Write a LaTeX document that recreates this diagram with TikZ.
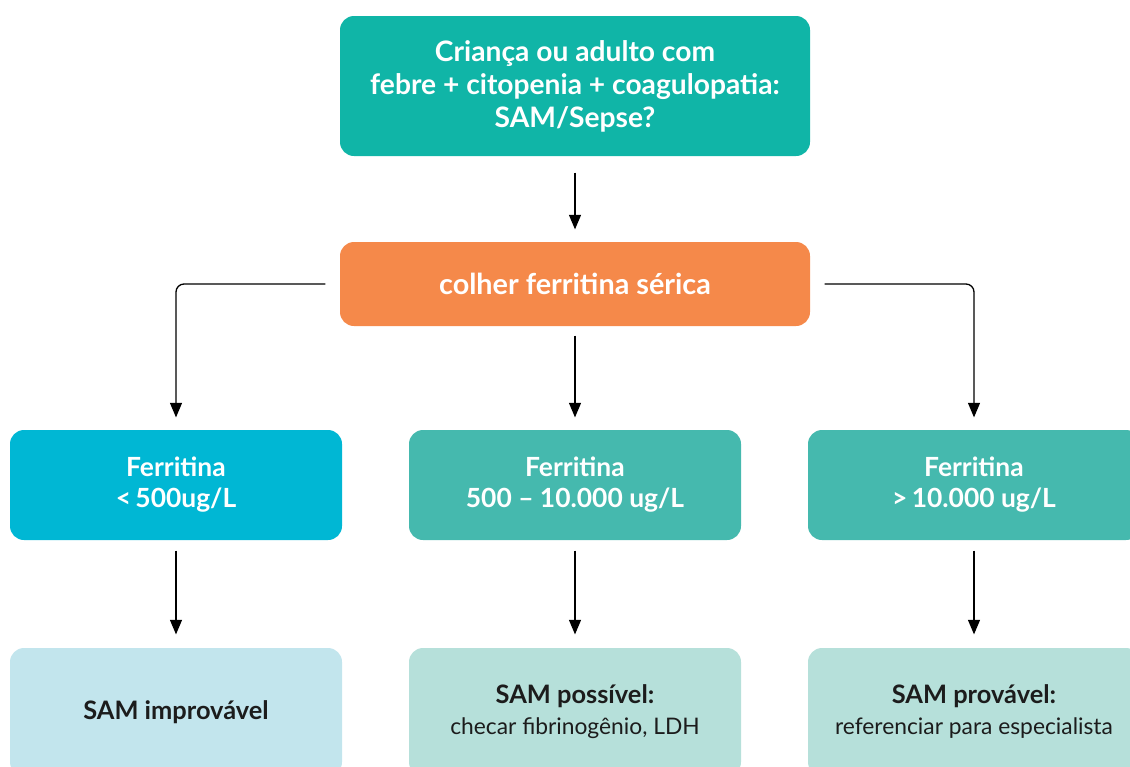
\documentclass[tikz,border=0pt]{standalone}
\usepackage{fontspec}
\setmainfont{Lato}
\usetikzlibrary{arrows}

\definecolor{tealtop}{HTML}{10B5A7}
\definecolor{orangebox}{HTML}{F5894A}
\definecolor{cyanbox}{HTML}{00B7D4}
\definecolor{tealmid}{HTML}{45B9AE}
\definecolor{cyanlight}{HTML}{C2E5ED}
\definecolor{teallight}{HTML}{B6E0DA}
\definecolor{darktext}{HTML}{1C1C1C}

\begin{document}
\begin{tikzpicture}[->,>=triangle 45,x=0.5pt,y=-0.5pt,line width=0.65pt,
		box/.style={rectangle,rounded corners=7pt,align=center,inner sep=0pt,
			minimum width=166pt,minimum height=55pt},
		head node/.style={box,fill=tealtop,text=white,minimum width=235pt,minimum height=70pt,
			font=\fontsize{14.1}{16.5}\selectfont\bfseries},
		step node/.style={box,fill=orangebox,text=white,minimum width=235pt,minimum height=42pt,
			font=\fontsize{14.4}{16}\selectfont\bfseries},
		level node/.style={box,text=white,font=\fontsize{13.2}{15.5}\selectfont\bfseries},
		result node/.style={box,text=darktext,minimum height=64pt,font=\fontsize{11.4}{15.5}\selectfont}]

		\useasboundingbox (0,0) rectangle (1130,766);

		\node[head node] (q) at (575,86) {Criança ou adulto com\\febre + citopenia + coagulopatia:\\SAM/Sepse?};
		\node[step node] (f) at (575,284) {colher ferritina sérica};

		\node[level node,fill=cyanbox] (low) at (176,485) {Ferritina\\<\,500ug/L};
		\node[level node,fill=tealmid] (mid) at (575,485) {Ferritina\\500 -- 10.000 ug/L};
		\node[level node,fill=tealmid] (high) at (974,485) {Ferritina\\>\,10.000 ug/L};

		\node[result node,fill=cyanlight] (r1) at (176,712) {\fontsize{12.7}{15.5}\selectfont\bfseries SAM improvável};
		\node[result node,fill=teallight] (r2) at (575,712) {{\fontsize{12.7}{15.5}\selectfont\bfseries SAM possível:}\\checar fibrinogênio, LDH};
		\node[result node,fill=teallight] (r3) at (974,712) {{\fontsize{12.7}{15.5}\selectfont\bfseries SAM provável:}\\referenciar para especialista};

		\path[shorten <=8pt,shorten >=6pt] (q) edge (f);
		\path[shorten <=4.5pt,shorten >=6pt] (f) edge (mid);
		\draw[rounded corners=4pt,shorten <=7pt,shorten >=6pt] (f.west) -| (low.north);
		\draw[rounded corners=4pt,shorten <=7pt,shorten >=6pt] (f.east) -| (high.north);

		\path[shorten <=5pt,shorten >=6.5pt] (low) edge (r1)
		(mid) edge (r2)
		(high) edge (r3);
	\end{tikzpicture}
\end{document}
